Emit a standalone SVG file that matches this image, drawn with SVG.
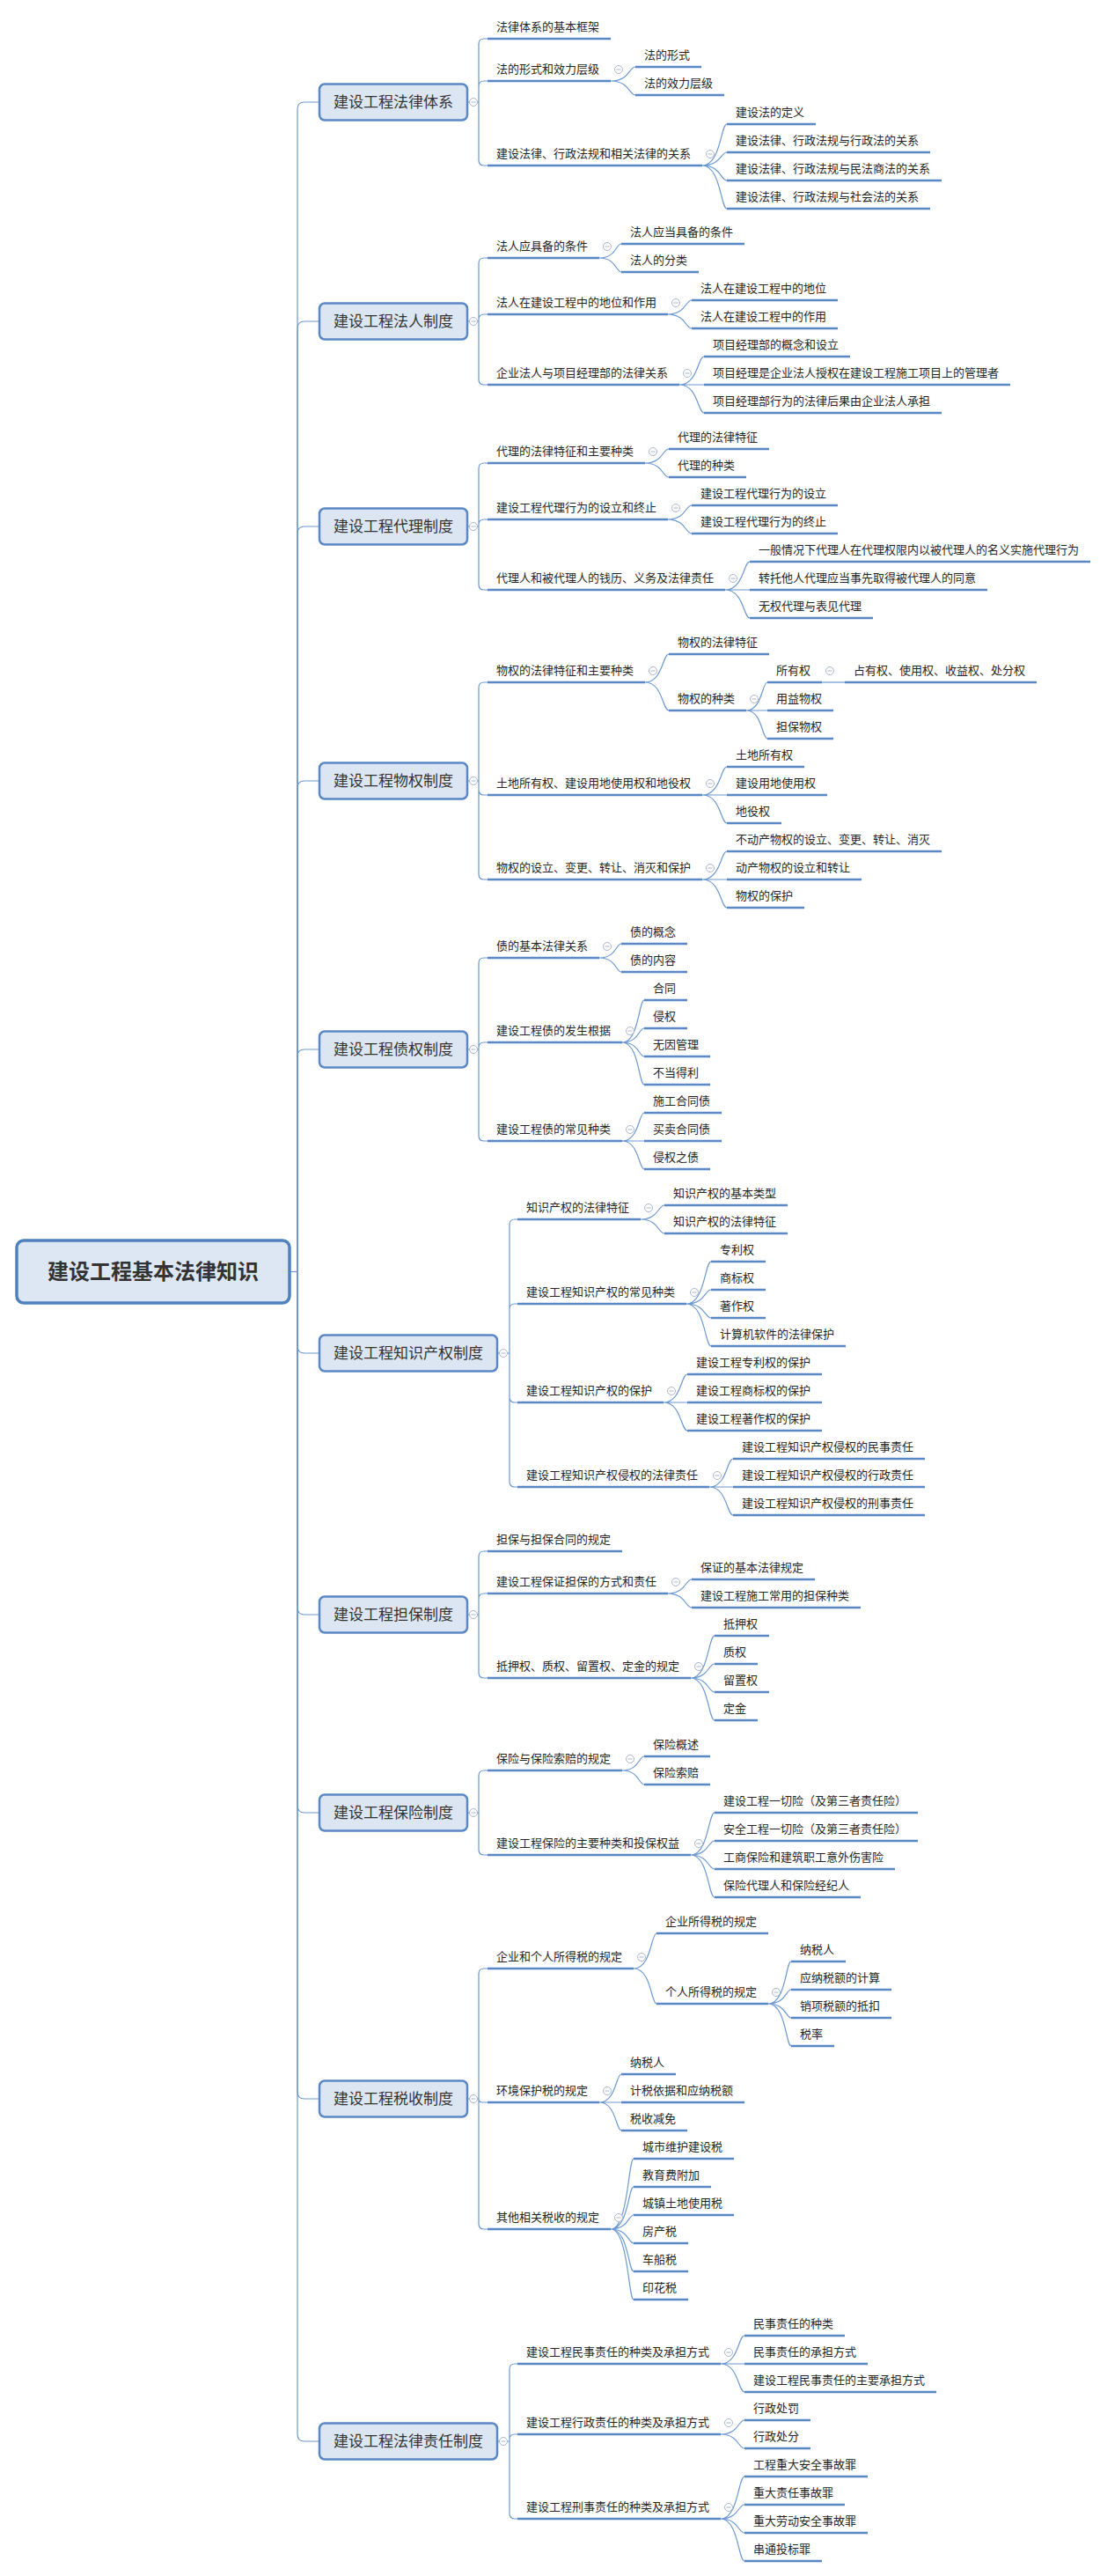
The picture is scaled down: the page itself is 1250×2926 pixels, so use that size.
<svg xmlns="http://www.w3.org/2000/svg" xmlns:xlink="http://www.w3.org/1999/xlink" width="1250" height="2926" viewBox="0 0 1250 2926">
<style>
.t{font-family:"Noto Sans CJK SC","Noto Sans",sans-serif;font-size:13px;fill:#262626}
.u{stroke:#5a88c5;stroke-width:2.6;fill:none}
.c{stroke:#6c98d0;stroke-width:1.2;fill:none}
.n1 rect{fill:#dce6f2;stroke:#5a88c5;stroke-width:2.5}
.n1 text{font-family:"Noto Sans CJK SC","Noto Sans",sans-serif;font-size:17px;text-anchor:middle;fill:#333}
.root rect{fill:#dde7f3;stroke:#4f81bd;stroke-width:3.5}
.root text{font-family:"Noto Sans CJK SC","Noto Sans",sans-serif;font-size:24px;font-weight:bold;text-anchor:middle;fill:#333}
.cm circle{fill:#fff;stroke:#a9b6c9;stroke-width:1}
.cm path{stroke:#a9b6c9;stroke-width:1}
</style>
<defs>
<g id="cm" class="cm"><circle r="4.5" cx="0" cy="0"/><path d="M-2.5,0H2.5"/></g>
</defs>
<rect width="1250" height="2926" fill="#fff"/>
<g id="connectors">
<path class="c" d="M329,1444.5H338"/>
<path class="c" d="M338,1444.5V124Q338,116 346,116H363"/>
<path class="c" d="M338,1444.5V373Q338,365 346,365H363"/>
<path class="c" d="M338,1444.5V606Q338,598 346,598H363"/>
<path class="c" d="M338,1444.5V895Q338,887 346,887H363"/>
<path class="c" d="M338,1444.5V1200Q338,1192 346,1192H363"/>
<path class="c" d="M338,1444.5V1529Q338,1537 346,1537H363"/>
<path class="c" d="M338,1444.5V1826Q338,1834 346,1834H363"/>
<path class="c" d="M338,1444.5V2051Q338,2059 346,2059H363"/>
<path class="c" d="M338,1444.5V2376Q338,2384 346,2384H363"/>
<path class="c" d="M338,1444.5V2765Q338,2773 346,2773H363"/>
<path class="c" d="M531,116H544M544,116V50Q544,44 550,44H554M544,116V98Q544,92 550,92H554M544,116V182Q544,188 550,188H554"/>
<path class="c" d="M531,365H544M544,365V299Q544,293 550,293H554M544,365V363Q544,357 550,357H554M544,365V431Q544,437 550,437H554"/>
<path class="c" d="M531,598H544M544,598V532Q544,526 550,526H554M544,598V596Q544,590 550,590H554M544,598V664Q544,670 550,670H554"/>
<path class="c" d="M531,887H544M544,887V781Q544,775 550,775H554M544,887V897Q544,903 550,903H554M544,887V993Q544,999 550,999H554"/>
<path class="c" d="M531,1192H544M544,1192V1094Q544,1088 550,1088H554M544,1192V1190Q544,1184 550,1184H554M544,1192V1290Q544,1296 550,1296H554"/>
<path class="c" d="M565,1537H579M579,1537V1391Q579,1385 585,1385H588M579,1537V1487Q579,1481 585,1481H588M579,1537V1587Q579,1593 585,1593H588M579,1537V1683Q579,1689 585,1689H588"/>
<path class="c" d="M531,1834H544M544,1834V1768Q544,1762 550,1762H554M544,1834V1816Q544,1810 550,1810H554M544,1834V1900Q544,1906 550,1906H554"/>
<path class="c" d="M531,2059H544M544,2059V2017Q544,2011 550,2011H554M544,2059V2101Q544,2107 550,2107H554"/>
<path class="c" d="M531,2384H544M544,2384V2242Q544,2236 550,2236H554M544,2384Q544,2388 548,2388H554M544,2384V2526Q544,2532 550,2532H554"/>
<path class="c" d="M565,2773H579M579,2773V2691Q579,2685 585,2685H588M579,2773V2771Q579,2765 585,2765H588M579,2773V2855Q579,2861 585,2861H588"/>
<path class="c" d="M694,92C715,92 715,76 722,76M694,92C715,92 715,108 722,108"/>
<path class="c" d="M798,188C819,188 819,141 826,141M798,188C819,188 819,173 826,173M798,188C819,188 819,205 826,205M798,188C819,188 819,237 826,237"/>
<path class="c" d="M681,293C700,293 700,277 706,277M681,293C700,293 700,309 706,309"/>
<path class="c" d="M759,357C779,357 779,341 786,341M759,357C779,357 779,373 786,373"/>
<path class="c" d="M772,437C793,437 793,405 800,405M772,437H800M772,437C793,437 793,469 800,469"/>
<path class="c" d="M733,526C753,526 753,510 760,510M733,526C753,526 753,542 760,542"/>
<path class="c" d="M759,590C779,590 779,574 786,574M759,590C779,590 779,606 786,606"/>
<path class="c" d="M824,670C845,670 845,638 852,638M824,670H852M824,670C845,670 845,702 852,702"/>
<path class="c" d="M733,775C753,775 753,743 760,743M733,775C753,775 753,807 760,807"/>
<path class="c" d="M848,807C866,807 866,775 872,775M848,807H872M848,807C866,807 866,839 872,839"/>
<path class="c" d="M934,775H960"/>
<path class="c" d="M798,903C819,903 819,871 826,871M798,903H826M798,903C819,903 819,935 826,935"/>
<path class="c" d="M798,999C819,999 819,967 826,967M798,999H826M798,999C819,999 819,1031 826,1031"/>
<path class="c" d="M681,1088C700,1088 700,1072 706,1072M681,1088C700,1088 700,1104 706,1104"/>
<path class="c" d="M707,1184C726,1184 726,1136 732,1136M707,1184C726,1184 726,1168 732,1168M707,1184C726,1184 726,1200 732,1200M707,1184C726,1184 726,1232 732,1232"/>
<path class="c" d="M707,1296C726,1296 726,1264 732,1264M707,1296H732M707,1296C726,1296 726,1328 732,1328"/>
<path class="c" d="M728,1385C748,1385 748,1369 755,1369M728,1385C748,1385 748,1401 755,1401"/>
<path class="c" d="M780,1481C801,1481 801,1433 808,1433M780,1481C801,1481 801,1465 808,1465M780,1481C801,1481 801,1497 808,1497M780,1481C801,1481 801,1529 808,1529"/>
<path class="c" d="M754,1593C774,1593 774,1561 781,1561M754,1593H781M754,1593C774,1593 774,1625 781,1625"/>
<path class="c" d="M806,1689C826,1689 826,1657 833,1657M806,1689H833M806,1689C826,1689 826,1721 833,1721"/>
<path class="c" d="M759,1810C779,1810 779,1794 786,1794M759,1810C779,1810 779,1826 786,1826"/>
<path class="c" d="M785,1906C805,1906 805,1858 812,1858M785,1906C805,1906 805,1890 812,1890M785,1906C805,1906 805,1922 812,1922M785,1906C805,1906 805,1954 812,1954"/>
<path class="c" d="M707,2011C726,2011 726,1995 732,1995M707,2011C726,2011 726,2027 732,2027"/>
<path class="c" d="M785,2107C805,2107 805,2059 812,2059M785,2107C805,2107 805,2091 812,2091M785,2107C805,2107 805,2123 812,2123M785,2107C805,2107 805,2155 812,2155"/>
<path class="c" d="M720,2236C740,2236 740,2196 746,2196M720,2236C740,2236 740,2276 746,2276"/>
<path class="c" d="M873,2276C893,2276 893,2228 899,2228M873,2276C893,2276 893,2260 899,2260M873,2276C893,2276 893,2292 899,2292M873,2276C893,2276 893,2324 899,2324"/>
<path class="c" d="M681,2388C700,2388 700,2356 706,2356M681,2388H706M681,2388C700,2388 700,2420 706,2420"/>
<path class="c" d="M694,2532C714,2532 714,2452 720,2452M694,2532C714,2532 714,2484 720,2484M694,2532C714,2532 714,2516 720,2516M694,2532C714,2532 714,2548 720,2548M694,2532C714,2532 714,2580 720,2580M694,2532C714,2532 714,2612 720,2612"/>
<path class="c" d="M819,2685C839,2685 839,2653 846,2653M819,2685H846M819,2685C839,2685 839,2717 846,2717"/>
<path class="c" d="M819,2765C839,2765 839,2749 846,2749M819,2765C839,2765 839,2781 846,2781"/>
<path class="c" d="M819,2861C839,2861 839,2813 846,2813M819,2861C839,2861 839,2845 846,2845M819,2861C839,2861 839,2877 846,2877M819,2861C839,2861 839,2909 846,2909"/>
</g>
<g id="collapse">
<use xlink:href="#cm" x="538" y="116"/><use xlink:href="#cm" x="538" y="365"/><use xlink:href="#cm" x="538" y="598"/><use xlink:href="#cm" x="538" y="887"/><use xlink:href="#cm" x="538" y="1192"/><use xlink:href="#cm" x="572" y="1537"/><use xlink:href="#cm" x="538" y="1834"/><use xlink:href="#cm" x="538" y="2059"/><use xlink:href="#cm" x="538" y="2384"/><use xlink:href="#cm" x="572" y="2773"/>
<use xlink:href="#cm" x="703" y="79"/><use xlink:href="#cm" x="807" y="175"/><use xlink:href="#cm" x="690" y="280"/><use xlink:href="#cm" x="768" y="344"/><use xlink:href="#cm" x="781" y="424"/><use xlink:href="#cm" x="742" y="513"/><use xlink:href="#cm" x="768" y="577"/><use xlink:href="#cm" x="833" y="657"/><use xlink:href="#cm" x="742" y="762"/><use xlink:href="#cm" x="857" y="794"/><use xlink:href="#cm" x="943" y="762"/><use xlink:href="#cm" x="807" y="890"/><use xlink:href="#cm" x="807" y="986"/><use xlink:href="#cm" x="690" y="1075"/><use xlink:href="#cm" x="716" y="1171"/><use xlink:href="#cm" x="716" y="1283"/><use xlink:href="#cm" x="737" y="1372"/><use xlink:href="#cm" x="789" y="1468"/><use xlink:href="#cm" x="763" y="1580"/><use xlink:href="#cm" x="815" y="1676"/><use xlink:href="#cm" x="768" y="1797"/><use xlink:href="#cm" x="794" y="1893"/><use xlink:href="#cm" x="716" y="1998"/><use xlink:href="#cm" x="794" y="2094"/><use xlink:href="#cm" x="729" y="2223"/><use xlink:href="#cm" x="882" y="2263"/><use xlink:href="#cm" x="690" y="2375"/><use xlink:href="#cm" x="703" y="2519"/><use xlink:href="#cm" x="828" y="2672"/><use xlink:href="#cm" x="828" y="2752"/><use xlink:href="#cm" x="828" y="2848"/>
</g>
<g id="root" class="root"><rect x="19" y="1409" width="310" height="71" rx="8"/><text x="174" y="1453">建设工程基本法律知识</text></g>
<g id="L1-A" class="n1"><rect x="363" y="95.5" width="168" height="41" rx="6"/><text x="447" y="122">建设工程法律体系</text></g>
<g id="L1-B" class="n1"><rect x="363" y="344.5" width="168" height="41" rx="6"/><text x="447" y="371">建设工程法人制度</text></g>
<g id="L1-C" class="n1"><rect x="363" y="577.5" width="168" height="41" rx="6"/><text x="447" y="604">建设工程代理制度</text></g>
<g id="L1-D" class="n1"><rect x="363" y="866.5" width="168" height="41" rx="6"/><text x="447" y="893">建设工程物权制度</text></g>
<g id="L1-E" class="n1"><rect x="363" y="1171.5" width="168" height="41" rx="6"/><text x="447" y="1198">建设工程债权制度</text></g>
<g id="L1-F" class="n1"><rect x="363" y="1516.5" width="202" height="41" rx="6"/><text x="464" y="1543">建设工程知识产权制度</text></g>
<g id="L1-G" class="n1"><rect x="363" y="1813.5" width="168" height="41" rx="6"/><text x="447" y="1840">建设工程担保制度</text></g>
<g id="L1-H" class="n1"><rect x="363" y="2038.5" width="168" height="41" rx="6"/><text x="447" y="2065">建设工程保险制度</text></g>
<g id="L1-I" class="n1"><rect x="363" y="2363.5" width="168" height="41" rx="6"/><text x="447" y="2390">建设工程税收制度</text></g>
<g id="L1-J" class="n1"><rect x="363" y="2752.5" width="202" height="41" rx="6"/><text x="464" y="2779">建设工程法律责任制度</text></g>
<g id="a1"><text class="t" x="564" y="35">法律体系的基本框架</text><path class="u" d="M554,44H694"/></g>
<g id="a2"><text class="t" x="564" y="83">法的形式和效力层级</text><path class="u" d="M554,92H694"/></g>
<g id="a2-1"><text class="t" x="732" y="67">法的形式</text><path class="u" d="M722,76H797"/></g>
<g id="a2-2"><text class="t" x="732" y="99">法的效力层级</text><path class="u" d="M722,108H823"/></g>
<g id="a3"><text class="t" x="564" y="179">建设法律、行政法规和相关法律的关系</text><path class="u" d="M554,188H798"/></g>
<g id="a3-1"><text class="t" x="836" y="132">建设法的定义</text><path class="u" d="M826,141H927"/></g>
<g id="a3-2"><text class="t" x="836" y="164">建设法律、行政法规与行政法的关系</text><path class="u" d="M826,173H1057"/></g>
<g id="a3-3"><text class="t" x="836" y="196">建设法律、行政法规与民法商法的关系</text><path class="u" d="M826,205H1070"/></g>
<g id="a3-4"><text class="t" x="836" y="228">建设法律、行政法规与社会法的关系</text><path class="u" d="M826,237H1057"/></g>
<g id="b1"><text class="t" x="564" y="284">法人应具备的条件</text><path class="u" d="M554,293H681"/></g>
<g id="b1-1"><text class="t" x="716" y="268">法人应当具备的条件</text><path class="u" d="M706,277H846"/></g>
<g id="b1-2"><text class="t" x="716" y="300">法人的分类</text><path class="u" d="M706,309H794"/></g>
<g id="b2"><text class="t" x="564" y="348">法人在建设工程中的地位和作用</text><path class="u" d="M554,357H759"/></g>
<g id="b2-1"><text class="t" x="796" y="332">法人在建设工程中的地位</text><path class="u" d="M786,341H952"/></g>
<g id="b2-2"><text class="t" x="796" y="364">法人在建设工程中的作用</text><path class="u" d="M786,373H952"/></g>
<g id="b3"><text class="t" x="564" y="428">企业法人与项目经理部的法律关系</text><path class="u" d="M554,437H772"/></g>
<g id="b3-1"><text class="t" x="810" y="396">项目经理部的概念和设立</text><path class="u" d="M800,405H966"/></g>
<g id="b3-2"><text class="t" x="810" y="428">项目经理是企业法人授权在建设工程施工项目上的管理者</text><path class="u" d="M800,437H1148"/></g>
<g id="b3-3"><text class="t" x="810" y="460">项目经理部行为的法律后果由企业法人承担</text><path class="u" d="M800,469H1070"/></g>
<g id="c1"><text class="t" x="564" y="517">代理的法律特征和主要种类</text><path class="u" d="M554,526H733"/></g>
<g id="c1-1"><text class="t" x="770" y="501">代理的法律特征</text><path class="u" d="M760,510H874"/></g>
<g id="c1-2"><text class="t" x="770" y="533">代理的种类</text><path class="u" d="M760,542H848"/></g>
<g id="c2"><text class="t" x="564" y="581">建设工程代理行为的设立和终止</text><path class="u" d="M554,590H759"/></g>
<g id="c2-1"><text class="t" x="796" y="565">建设工程代理行为的设立</text><path class="u" d="M786,574H952"/></g>
<g id="c2-2"><text class="t" x="796" y="597">建设工程代理行为的终止</text><path class="u" d="M786,606H952"/></g>
<g id="c3"><text class="t" x="564" y="661">代理人和被代理人的钱历、义务及法律责任</text><path class="u" d="M554,670H824"/></g>
<g id="c3-1"><text class="t" x="862" y="629">一般情况下代理人在代理权限内以被代理人的名义实施代理行为</text><path class="u" d="M852,638H1239"/></g>
<g id="c3-2"><text class="t" x="862" y="661">转托他人代理应当事先取得被代理人的同意</text><path class="u" d="M852,670H1122"/></g>
<g id="c3-3"><text class="t" x="862" y="693">无权代理与表见代理</text><path class="u" d="M852,702H992"/></g>
<g id="d1"><text class="t" x="564" y="766">物权的法律特征和主要种类</text><path class="u" d="M554,775H733"/></g>
<g id="d1-1"><text class="t" x="770" y="734">物权的法律特征</text><path class="u" d="M760,743H874"/></g>
<g id="d1-2"><text class="t" x="770" y="798">物权的种类</text><path class="u" d="M760,807H848"/></g>
<g id="d1-2-1"><text class="t" x="882" y="766">所有权</text><path class="u" d="M872,775H934"/></g>
<g id="d1-2-1-1"><text class="t" x="970" y="766">占有权、使用权、收益权、处分权</text><path class="u" d="M960,775H1178"/></g>
<g id="d1-2-2"><text class="t" x="882" y="798">用益物权</text><path class="u" d="M872,807H947"/></g>
<g id="d1-2-3"><text class="t" x="882" y="830">担保物权</text><path class="u" d="M872,839H947"/></g>
<g id="d2"><text class="t" x="564" y="894">土地所有权、建设用地使用权和地役权</text><path class="u" d="M554,903H798"/></g>
<g id="d2-1"><text class="t" x="836" y="862">土地所有权</text><path class="u" d="M826,871H914"/></g>
<g id="d2-2"><text class="t" x="836" y="894">建设用地使用权</text><path class="u" d="M826,903H940"/></g>
<g id="d2-3"><text class="t" x="836" y="926">地役权</text><path class="u" d="M826,935H888"/></g>
<g id="d3"><text class="t" x="564" y="990">物权的设立、变更、转让、消灭和保护</text><path class="u" d="M554,999H798"/></g>
<g id="d3-1"><text class="t" x="836" y="958">不动产物权的设立、变更、转让、消灭</text><path class="u" d="M826,967H1070"/></g>
<g id="d3-2"><text class="t" x="836" y="990">动产物权的设立和转让</text><path class="u" d="M826,999H979"/></g>
<g id="d3-3"><text class="t" x="836" y="1022">物权的保护</text><path class="u" d="M826,1031H914"/></g>
<g id="e1"><text class="t" x="564" y="1079">债的基本法律关系</text><path class="u" d="M554,1088H681"/></g>
<g id="e1-1"><text class="t" x="716" y="1063">债的概念</text><path class="u" d="M706,1072H781"/></g>
<g id="e1-2"><text class="t" x="716" y="1095">债的内容</text><path class="u" d="M706,1104H781"/></g>
<g id="e2"><text class="t" x="564" y="1175">建设工程债的发生根据</text><path class="u" d="M554,1184H707"/></g>
<g id="e2-1"><text class="t" x="742" y="1127">合同</text><path class="u" d="M732,1136H781"/></g>
<g id="e2-2"><text class="t" x="742" y="1159">侵权</text><path class="u" d="M732,1168H781"/></g>
<g id="e2-3"><text class="t" x="742" y="1191">无因管理</text><path class="u" d="M732,1200H807"/></g>
<g id="e2-4"><text class="t" x="742" y="1223">不当得利</text><path class="u" d="M732,1232H807"/></g>
<g id="e3"><text class="t" x="564" y="1287">建设工程债的常见种类</text><path class="u" d="M554,1296H707"/></g>
<g id="e3-1"><text class="t" x="742" y="1255">施工合同债</text><path class="u" d="M732,1264H820"/></g>
<g id="e3-2"><text class="t" x="742" y="1287">买卖合同债</text><path class="u" d="M732,1296H820"/></g>
<g id="e3-3"><text class="t" x="742" y="1319">侵权之债</text><path class="u" d="M732,1328H807"/></g>
<g id="f1"><text class="t" x="598" y="1376">知识产权的法律特征</text><path class="u" d="M588,1385H728"/></g>
<g id="f1-1"><text class="t" x="765" y="1360">知识产权的基本类型</text><path class="u" d="M755,1369H895"/></g>
<g id="f1-2"><text class="t" x="765" y="1392">知识产权的法律特征</text><path class="u" d="M755,1401H895"/></g>
<g id="f2"><text class="t" x="598" y="1472">建设工程知识产权的常见种类</text><path class="u" d="M588,1481H780"/></g>
<g id="f2-1"><text class="t" x="818" y="1424">专利权</text><path class="u" d="M808,1433H870"/></g>
<g id="f2-2"><text class="t" x="818" y="1456">商标权</text><path class="u" d="M808,1465H870"/></g>
<g id="f2-3"><text class="t" x="818" y="1488">著作权</text><path class="u" d="M808,1497H870"/></g>
<g id="f2-4"><text class="t" x="818" y="1520">计算机软件的法律保护</text><path class="u" d="M808,1529H961"/></g>
<g id="f3"><text class="t" x="598" y="1584">建设工程知识产权的保护</text><path class="u" d="M588,1593H754"/></g>
<g id="f3-1"><text class="t" x="791" y="1552">建设工程专利权的保护</text><path class="u" d="M781,1561H934"/></g>
<g id="f3-2"><text class="t" x="791" y="1584">建设工程商标权的保护</text><path class="u" d="M781,1593H934"/></g>
<g id="f3-3"><text class="t" x="791" y="1616">建设工程著作权的保护</text><path class="u" d="M781,1625H934"/></g>
<g id="f4"><text class="t" x="598" y="1680">建设工程知识产权侵权的法律责任</text><path class="u" d="M588,1689H806"/></g>
<g id="f4-1"><text class="t" x="843" y="1648">建设工程知识产权侵权的民事责任</text><path class="u" d="M833,1657H1051"/></g>
<g id="f4-2"><text class="t" x="843" y="1680">建设工程知识产权侵权的行政责任</text><path class="u" d="M833,1689H1051"/></g>
<g id="f4-3"><text class="t" x="843" y="1712">建设工程知识产权侵权的刑事责任</text><path class="u" d="M833,1721H1051"/></g>
<g id="g1"><text class="t" x="564" y="1753">担保与担保合同的规定</text><path class="u" d="M554,1762H707"/></g>
<g id="g2"><text class="t" x="564" y="1801">建设工程保证担保的方式和责任</text><path class="u" d="M554,1810H759"/></g>
<g id="g2-1"><text class="t" x="796" y="1785">保证的基本法律规定</text><path class="u" d="M786,1794H926"/></g>
<g id="g2-2"><text class="t" x="796" y="1817">建设工程施工常用的担保种类</text><path class="u" d="M786,1826H978"/></g>
<g id="g3"><text class="t" x="564" y="1897">抵押权、质权、留置权、定金的规定</text><path class="u" d="M554,1906H785"/></g>
<g id="g3-1"><text class="t" x="822" y="1849">抵押权</text><path class="u" d="M812,1858H874"/></g>
<g id="g3-2"><text class="t" x="822" y="1881">质权</text><path class="u" d="M812,1890H861"/></g>
<g id="g3-3"><text class="t" x="822" y="1913">留置权</text><path class="u" d="M812,1922H874"/></g>
<g id="g3-4"><text class="t" x="822" y="1945">定金</text><path class="u" d="M812,1954H861"/></g>
<g id="h1"><text class="t" x="564" y="2002">保险与保险索赔的规定</text><path class="u" d="M554,2011H707"/></g>
<g id="h1-1"><text class="t" x="742" y="1986">保险概述</text><path class="u" d="M732,1995H807"/></g>
<g id="h1-2"><text class="t" x="742" y="2018">保险索赔</text><path class="u" d="M732,2027H807"/></g>
<g id="h2"><text class="t" x="564" y="2098">建设工程保险的主要种类和投保权益</text><path class="u" d="M554,2107H785"/></g>
<g id="h2-1"><text class="t" x="822" y="2050">建设工程一切险（及第三者责任险）</text><path class="u" d="M812,2059H1043"/></g>
<g id="h2-2"><text class="t" x="822" y="2082">安全工程一切险（及第三者责任险）</text><path class="u" d="M812,2091H1043"/></g>
<g id="h2-3"><text class="t" x="822" y="2114">工商保险和建筑职工意外伤害险</text><path class="u" d="M812,2123H1017"/></g>
<g id="h2-4"><text class="t" x="822" y="2146">保险代理人和保险经纪人</text><path class="u" d="M812,2155H978"/></g>
<g id="i1"><text class="t" x="564" y="2227">企业和个人所得税的规定</text><path class="u" d="M554,2236H720"/></g>
<g id="i1-1"><text class="t" x="756" y="2187">企业所得税的规定</text><path class="u" d="M746,2196H873"/></g>
<g id="i1-2"><text class="t" x="756" y="2267">个人所得税的规定</text><path class="u" d="M746,2276H873"/></g>
<g id="i1-2-1"><text class="t" x="909" y="2219">纳税人</text><path class="u" d="M899,2228H961"/></g>
<g id="i1-2-2"><text class="t" x="909" y="2251">应纳税额的计算</text><path class="u" d="M899,2260H1013"/></g>
<g id="i1-2-3"><text class="t" x="909" y="2283">销项税额的抵扣</text><path class="u" d="M899,2292H1013"/></g>
<g id="i1-2-4"><text class="t" x="909" y="2315">税率</text><path class="u" d="M899,2324H948"/></g>
<g id="i2"><text class="t" x="564" y="2379">环境保护税的规定</text><path class="u" d="M554,2388H681"/></g>
<g id="i2-1"><text class="t" x="716" y="2347">纳税人</text><path class="u" d="M706,2356H768"/></g>
<g id="i2-2"><text class="t" x="716" y="2379">计税依据和应纳税额</text><path class="u" d="M706,2388H846"/></g>
<g id="i2-3"><text class="t" x="716" y="2411">税收减免</text><path class="u" d="M706,2420H781"/></g>
<g id="i3"><text class="t" x="564" y="2523">其他相关税收的规定</text><path class="u" d="M554,2532H694"/></g>
<g id="i3-1"><text class="t" x="730" y="2443">城市维护建设税</text><path class="u" d="M720,2452H834"/></g>
<g id="i3-2"><text class="t" x="730" y="2475">教育费附加</text><path class="u" d="M720,2484H808"/></g>
<g id="i3-3"><text class="t" x="730" y="2507">城镇土地使用税</text><path class="u" d="M720,2516H834"/></g>
<g id="i3-4"><text class="t" x="730" y="2539">房产税</text><path class="u" d="M720,2548H782"/></g>
<g id="i3-5"><text class="t" x="730" y="2571">车船税</text><path class="u" d="M720,2580H782"/></g>
<g id="i3-6"><text class="t" x="730" y="2603">印花税</text><path class="u" d="M720,2612H782"/></g>
<g id="j1"><text class="t" x="598" y="2676">建设工程民事责任的种类及承担方式</text><path class="u" d="M588,2685H819"/></g>
<g id="j1-1"><text class="t" x="856" y="2644">民事责任的种类</text><path class="u" d="M846,2653H960"/></g>
<g id="j1-2"><text class="t" x="856" y="2676">民事责任的承担方式</text><path class="u" d="M846,2685H986"/></g>
<g id="j1-3"><text class="t" x="856" y="2708">建设工程民事责任的主要承担方式</text><path class="u" d="M846,2717H1064"/></g>
<g id="j2"><text class="t" x="598" y="2756">建设工程行政责任的种类及承担方式</text><path class="u" d="M588,2765H819"/></g>
<g id="j2-1"><text class="t" x="856" y="2740">行政处罚</text><path class="u" d="M846,2749H921"/></g>
<g id="j2-2"><text class="t" x="856" y="2772">行政处分</text><path class="u" d="M846,2781H921"/></g>
<g id="j3"><text class="t" x="598" y="2852">建设工程刑事责任的种类及承担方式</text><path class="u" d="M588,2861H819"/></g>
<g id="j3-1"><text class="t" x="856" y="2804">工程重大安全事故罪</text><path class="u" d="M846,2813H986"/></g>
<g id="j3-2"><text class="t" x="856" y="2836">重大责任事故罪</text><path class="u" d="M846,2845H960"/></g>
<g id="j3-3"><text class="t" x="856" y="2868">重大劳动安全事故罪</text><path class="u" d="M846,2877H986"/></g>
<g id="j3-4"><text class="t" x="856" y="2900">串通投标罪</text><path class="u" d="M846,2909H934"/></g>
</svg>
